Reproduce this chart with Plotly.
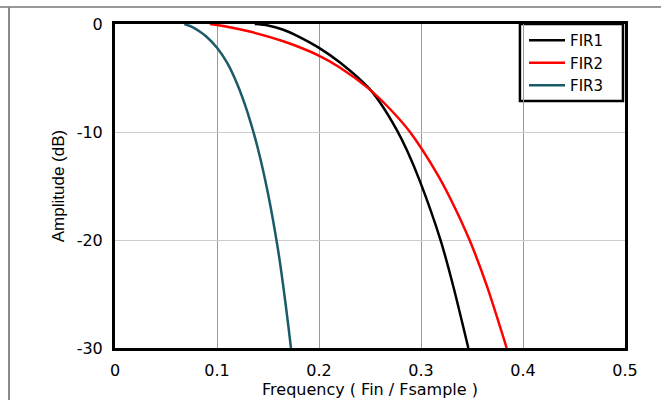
import plotly.graph_objects as go

# Frequency (Fin / Fsample) and amplitude (dB)
fir1_f = [0.137, 0.150, 0.165, 0.180, 0.1993, 0.2206, 0.2484, 0.2598, 0.277, 0.286, 0.299, 0.3193, 0.3317, 0.3464]
fir1_db = [0.0, -0.13, -0.53, -1.16, -2.16, -3.57, -5.9, -7.27, -9.94, -11.65, -14.57, -20.05, -24.3, -30.0]

fir2_f = [0.093, 0.110, 0.132, 0.165, 0.1993, 0.220, 0.2484, 0.2696, 0.2892, 0.3154, 0.329, 0.348, 0.3644, 0.384]
fir2_db = [0.0, -0.25, -0.7, -1.6, -2.9, -4.0, -5.96, -7.87, -10.0, -13.8, -16.2, -20.1, -24.2, -30.0]

fir3_f = [0.068, 0.075, 0.083, 0.090, 0.100, 0.110, 0.120, 0.130, 0.140, 0.150, 0.160, 0.165, 0.170, 0.1725]
fir3_db = [0.0, -0.25, -0.7, -1.2, -2.2, -3.6, -5.6, -8.2, -11.5, -15.7, -21.0, -24.3, -28.0, -30.0]

series_names = ["FIR1", "FIR2", "FIR3"]
series_colors = ["#000000", "#ff0000", "#1b5a69"]

x_ticks = [0, 0.1, 0.2, 0.3, 0.4, 0.5]
x_ticktext = ["0", "0.1", "0.2", "0.3", "0.4", "0.5"]
y_ticks = [0, -10, -20, -30]
y_ticktext = ["0", "-10", "-20", "-30"]

FONT = "DejaVu Sans"

fig = go.Figure()
for name, color, xs, ys in zip(series_names, series_colors,
                               [fir1_f, fir2_f, fir3_f],
                               [fir1_db, fir2_db, fir3_db]):
    fig.add_trace(go.Scatter(x=xs, y=ys, mode="lines", name=name,
                             line=dict(color=color, width=2.5, shape="spline", smoothing=0.8)))

fig.update_layout(
    width=661, height=400,
    margin=dict(l=115, r=36, t=24, b=52),
    paper_bgcolor="white", plot_bgcolor="white",
    font=dict(family=FONT, size=16, color="#000000"),
    showlegend=True,
    legend=dict(x=0.802, y=1, xanchor="left", yanchor="top",
                bgcolor="rgba(0,0,0,0)", borderwidth=0,
                itemwidth=36,
                font=dict(family=FONT, size=15, color="#000000"),
                tracegroupgap=0),
    shapes=[
        # page frame lines
        dict(type="line", xref="paper", yref="paper",
             x0=-0.23, x1=1.08, y0=1.0525, y1=1.0525,
             line=dict(color="#333333", width=1.2)),
        dict(type="line", xref="paper", yref="paper",
             x0=-0.2078, x1=-0.2078, y0=1.0525, y1=-0.2,
             line=dict(color="#888888", width=2)),
        # legend box
        dict(type="rect", xref="paper", yref="paper",
             x0=0.794, x1=0.996, y0=0.762, y1=1.0,
             fillcolor="white", layer="below",
             line=dict(color="#000000", width=2.5)),
    ],
)

fig.update_xaxes(
    range=[0, 0.5], tickvals=x_ticks, ticktext=x_ticktext,
    showline=True, mirror=True, linecolor="#000000", linewidth=3,
    showgrid=True, gridcolor="#9a9a9a", gridwidth=1,
    zeroline=False, ticks="", ticklabelstandoff=6, automargin=False,
    title=dict(text="Frequency ( Fin / Fsample )", standoff=0,
               font=dict(family=FONT, size=16)),
)
fig.update_yaxes(
    range=[-30, 0], tickvals=y_ticks, ticktext=y_ticktext,
    showline=True, mirror=True, linecolor="#000000", linewidth=3,
    showgrid=True, gridcolor="#cccccc", gridwidth=1,
    zeroline=False, ticks="", ticklabelstandoff=6, automargin=False,
    title=dict(text="Amplitude (dB)", standoff=8,
               font=dict(family="Liberation Sans", size=17)),
)

fig.write_html("out.html", config={"displayModeBar": False},
               post_script="document.body.style.margin='0px';")
